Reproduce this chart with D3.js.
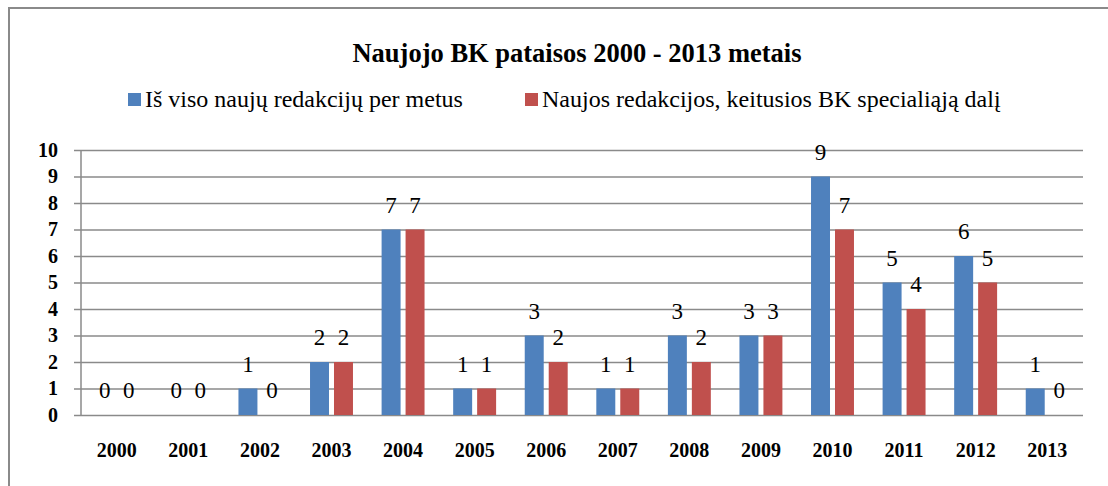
<!DOCTYPE html>
<html>
<head>
<meta charset="utf-8">
<script src="https://cdn.jsdelivr.net/npm/d3@7"></script>
<style>
  body { margin: 0; background: #fff; }
  svg text { font-family: "Liberation Serif", "Times New Roman", Times, serif !important; fill: #000; }
  .grid line { stroke: #8a8a8a; stroke-width: 1.5; }
  .grid .domain { display: none; }
  .ylab text { font-weight: bold; font-size: 20px; }
  .xaxis text { font-weight: bold; font-size: 20px; }
  .xaxis .domain, .xaxis line { display: none; }
</style>
</head>
<body>
<svg id="chart"></svg>
<script>
// chart values
const years = ["2000", "2001", "2002", "2003", "2004", "2005", "2006",
               "2007", "2008", "2009", "2010", "2011", "2012", "2013"];
const seriesNames = ["Iš viso naujų redakcijų per metus",
                     "Naujos redakcijos, keitusios BK specialiąją dalį"];
const totalValues = [0, 0, 1, 2, 7, 1, 3, 1, 3, 3, 9, 5, 6, 1];
const specialValues = [0, 0, 0, 2, 7, 1, 2, 1, 2, 3, 7, 4, 5, 0];
const yTicks = [0, 1, 2, 3, 4, 5, 6, 7, 8, 9, 10];
const colors = ["#4f81bd", "#c0504d"];
const title = "Naujojo BK pataisos 2000 - 2013 metais";

const width = 1108;
const height = 486;

const svg = d3.select("#chart")
  .attr("width", width)
  .attr("height", height);

// outer frame (only top and left edges are visible)
svg.append("path")
  .attr("d", `M9,${height} L9,8 L${width},8`)
  .attr("fill", "none")
  .attr("stroke", "#8a8a8a")
  .attr("stroke-width", 2);

// title
svg.append("text")
  .attr("x", 577)
  .attr("y", 62)
  .attr("text-anchor", "middle")
  .style("font-weight", "bold")
  .style("font-size", "26.5px")
  .text(title);

// legend
const legendX = [128, 525];
const legend = svg.selectAll(".legend")
  .data(seriesNames)
  .enter()
  .append("g")
  .attr("class", "legend")
  .attr("transform", (d, i) => `translate(${legendX[i]},93)`);

legend.append("rect")
  .attr("width", 13)
  .attr("height", 13)
  .attr("fill", (d, i) => colors[i]);

legend.append("text")
  .attr("x", 17)
  .attr("y", 14)
  .style("font-size", "24px")
  .text(d => d);

// plot area
const plotLeft = 81, plotRight = 1083, plotTop = 150, plotBottom = 415;

const x = d3.scaleBand()
  .domain(years)
  .range([plotLeft, plotRight])
  .paddingInner(0.4)
  .paddingOuter(0.2);

const x1 = d3.scaleBand()
  .domain([0, 1])
  .range([0, x.bandwidth()])
  .paddingInner(5 / 24);

const y = d3.scaleLinear()
  .domain([0, 10])
  .range([plotBottom, plotTop]);

// gridlines with the small outside ticks and labels
svg.append("g")
  .attr("class", "grid ylab")
  .attr("transform", `translate(${plotLeft - 7},0)`)
  .call(d3.axisLeft(y)
    .tickValues(yTicks)
    .tickSize(-(plotRight - plotLeft + 7))
    .tickPadding(16)
    .tickFormat(d3.format("d")));

// vertical axis line
svg.append("line")
  .attr("x1", plotLeft).attr("x2", plotLeft)
  .attr("y1", plotTop).attr("y2", plotBottom)
  .attr("stroke", "#8a8a8a")
  .attr("stroke-width", 1.5);

// x labels
svg.append("g")
  .attr("class", "xaxis")
  .attr("transform", `translate(0,${plotBottom})`)
  .call(d3.axisBottom(x).tickSize(0).tickPadding(28));

// bars
const rows = years.map((yr, i) => ({ year: yr, values: [totalValues[i], specialValues[i]] }));

const groups = svg.selectAll(".year")
  .data(rows)
  .enter()
  .append("g")
  .attr("class", "year")
  .attr("transform", d => `translate(${x(d.year)},0)`);

groups.selectAll("rect")
  .data(d => d.values.map((v, s) => ({ s: s, v: v })))
  .enter()
  .append("rect")
  .attr("x", d => x1(d.s))
  .attr("width", x1.bandwidth())
  .attr("y", d => y(d.v))
  .attr("height", d => plotBottom - y(d.v))
  .attr("fill", d => colors[d.s]);

// value labels
groups.selectAll("text")
  .data(d => d.values.map((v, s) => ({ s: s, v: v })))
  .enter()
  .append("text")
  .attr("x", d => x1(d.s) + x1.bandwidth() / 2)
  .attr("y", d => y(d.v) - 17)
  .attr("text-anchor", "middle")
  .style("font-size", "23px")
  .text(d => d.v);
</script>
</body>
</html>
